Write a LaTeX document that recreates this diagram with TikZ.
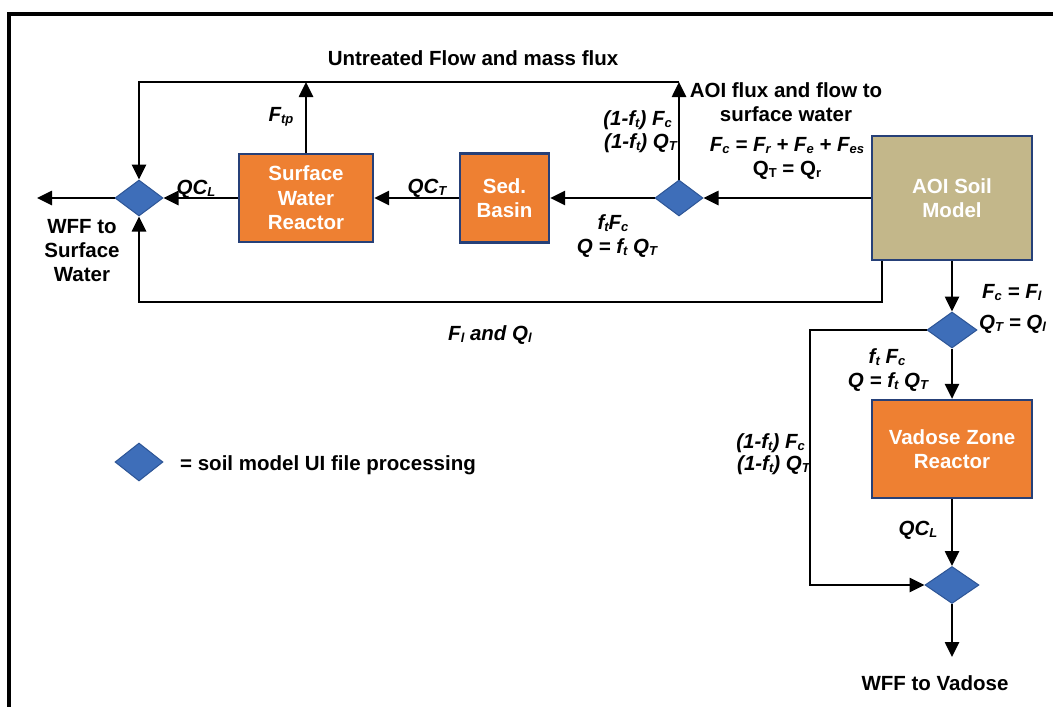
\documentclass[tikz,border=0pt]{standalone}
\usepackage{fontspec}
\setmainfont{Liberation Sans}
\usetikzlibrary{arrows.meta,shapes.geometric,calc}
\definecolor{orangeF}{RGB}{238,128,50}
\definecolor{boxblue}{RGB}{38,64,120}
\definecolor{diablue}{RGB}{62,110,185}
\definecolor{diaborder}{RGB}{45,85,150}
\definecolor{aoifill}{RGB}{195,183,138}
\newcommand{\sbs}[1]{\raisebox{-2.5pt}{\fontsize{13}{13}\selectfont #1}}
\begin{document}
\begin{tikzpicture}[x=1pt,y=-1pt,
  conn/.style={line width=2.6pt, -{Triangle[length=15pt,width=14pt]}},
  lab/.style={font=\bfseries\itshape\fontsize{20.5}{24}\selectfont, inner sep=0pt, anchor=base},
  ulab/.style={font=\bfseries\fontsize{20.5}{24}\selectfont, inner sep=0pt, anchor=base},
  box/.style={draw=boxblue, line width=2.2pt, fill=orangeF, text=white, font=\bfseries\fontsize{20.5}{24.5}\selectfont, align=center, inner sep=0pt},
  dia/.style={diamond, draw=diaborder, line width=1pt, fill=diablue, minimum width=48pt, minimum height=36pt, inner sep=0pt}
]
\useasboundingbox (0,0) rectangle (1053,707);
\fill[white] (0,0) rectangle (1053,707);
% frame
\draw[line width=4pt] (9,720) -- (9,13.5) -- (1070,13.5);

% boxes
\node[box, minimum width=134pt, minimum height=88pt] (swr) at (306,198) {Surface\\Water\\Reactor};
\node[box, minimum width=89pt, minimum height=89pt] (sed) at (504.5,198) {Sed.\\Basin};
\node[box, fill=aoifill, minimum width=160pt, minimum height=124pt] (aoi) at (952,198) {AOI Soil\\Model};
\node[box, minimum width=160pt, minimum height=98pt] (vz) at (952,449) {Vadose Zone\\Reactor};

% diamonds
\node[dia] (d1) at (139,198) {};
\node[dia] (d2) at (679,198) {};
\node[dia, minimum width=50pt] (d3) at (952,330) {};
\node[dia, minimum width=54pt, minimum height=37pt] (d4) at (952,585) {};
\node[dia, minimum height=38pt] (leg) at (139,462) {};

% coordinates
\coordinate (top) at (679,82);
\coordinate (wffs) at (37,198);
\coordinate (botl) at (882,302);
\coordinate (aoiout) at (aoi.south -| botl);
\coordinate (wffv) at (952,657);
\coordinate (bypass) at (810,330);

% connectors upper part
\draw[conn] (aoi.west |- d2) -- (d2.east);
\draw[conn] (d2.west) -- (sed.east);
\draw[conn] (sed.west) -- (swr.east);
\draw[conn] (swr.west) -- (d1.east);
\draw[conn] (d1.west) -- (wffs);
\draw[conn] (d2.north) -- (top);
\draw[conn] (top) -| (d1.north);
\draw[conn] (swr.north) -- (swr.north |- top);
\draw[conn] (aoiout) -- (botl) -| (d1.south);

% connectors lower part
\draw[conn] (aoi.south) -- (d3.north);
\draw[conn] (d3.south) -- (vz.north);
\draw[conn] (vz.south) -- (d4.north);
\draw[conn] (d4.south) -- (wffv);
\draw[conn] (d3.west) -- (bypass) |- (d4.west);

% labels
\node[ulab] (t1) at (473,65) {Untreated Flow and mass flux};
\node[lab] (t2) at (281,121) {F\sbs{tp}};
\node[lab] (t3) at (196,194) {QC\sbs{L}};
\node[ulab, align=center, anchor=center] (t4) at (82,251) {WFF to\\Surface\\Water};
\node[lab] (t5) at (427,193) {QC\sbs{T}};
\node[lab, anchor=base east] (t6) at (672,125) {(1-f\sbs{t}) F\sbs{c}};
\node[lab, anchor=base east] (t7) at (677,148) {(1-f\sbs{t}) Q\sbs{T}};
\node[ulab] (t8) at (786,97) {AOI flux and flow to};
\node[ulab] (t9) at (786,121) {surface water};
\node[lab] (t10) at (787,151) {F\sbs{c} = F\sbs{r} + F\sbs{e} + F\sbs{es}};
\node[ulab] (t11) at (787,175) {Q\sbs{T} = Q\sbs{r}};
\node[lab] (t12) at (613,229) {f\sbs{t}F\sbs{c}};
\node[lab] (t13) at (617,253) {Q = f\sbs{t} Q\sbs{T}};
\node[lab] (t14) at (490,340) {F\sbs{l} and Q\sbs{l}};
\node[ulab, anchor=base west] (t15) at (180,470) {= soil model UI file processing};
\node[lab, anchor=base west] (t16) at (982,298) {F\sbs{c} = F\sbs{l}};
\node[lab, anchor=base west] (t17) at (979,329) {Q\sbs{T} = Q\sbs{l}};
\node[lab] (t18) at (887,363) {f\sbs{t} F\sbs{c}};
\node[lab] (t19) at (888,387) {Q = f\sbs{t} Q\sbs{T}};
\node[lab, anchor=base east] (t20) at (805,448) {(1-f\sbs{t}) F\sbs{c}};
\node[lab, anchor=base east] (t21) at (810,470) {(1-f\sbs{t}) Q\sbs{T}};
\node[lab] (t22) at (918,535) {QC\sbs{L}};
\node[ulab] (t23) at (935,690) {WFF to Vadose};
\end{tikzpicture}
\end{document}
